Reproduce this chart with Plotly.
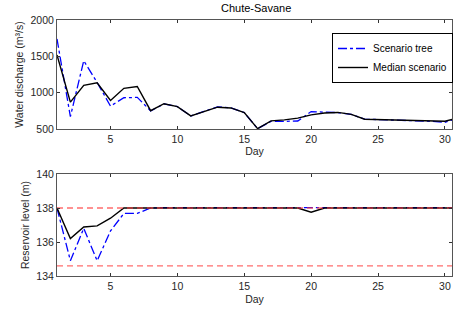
import plotly.graph_objects as go

days = list(range(1, 32))
tree_discharge = [1740, 670, 1440, 1140, 815, 930, 935, 750, 845, 808, 680, 740, 805, 790, 725,
                  505, 605, 605, 610, 740, 730, 725, 700, 635, 630, 625, 620, 612, 605, 593, 650]
median_discharge = [1520, 870, 1100, 1135, 893, 1060, 1085, 752, 848, 808, 680, 740, 800, 790, 725,
                    505, 612, 625, 650, 695, 720, 728, 702, 634, 630, 625, 620, 615, 610, 607, 650]
tree_level = [138, 134.9, 136.8, 134.9, 136.65, 137.68, 137.68, 138.0, 138.02, 138.02, 138.02,
              138.02, 138.02, 138.02, 138.02, 138.02, 138.02, 138.02, 138.02, 138.0, 138.02,
              138.02, 138.02, 138.02, 138.02, 138.02, 138.02, 138.02, 138.02, 138.02, 138.02]
median_level = [138, 136.2, 136.88, 136.95, 137.4, 138.0, 138.0, 138.0, 138.0, 138.0, 138.0,
                138.0, 138.0, 138.0, 138.0, 138.0, 138.0, 138.0, 138.0, 137.75, 138.0,
                138.0, 138.0, 138.0, 138.0, 138.0, 138.0, 138.0, 138.0, 138.0, 138.0]
level_max = 138.0
level_min = 134.6

W, H = 453, 314
ml, mr, mt, mb = 57, 0, 20, 38
ph = H - mt - mb
pw = W - ml - mr

def fy(y):
    return (H - mb - y) / ph

def fx(x):
    return (x - ml) / pw

top_dom = [fy(129), fy(20)]
bot_dom = [fy(276), fy(174)]
xmax = 1 + pw / 13.41

font = dict(family="Liberation Sans, Arial, sans-serif", size=10.5, color="#262626")
blue = "#0000ff"
red = "rgba(255,60,60,0.75)"

fig = go.Figure()
fig.add_trace(go.Scatter(x=days, y=tree_discharge, mode="lines", name="Scenario tree",
                         line=dict(color=blue, width=1.3, dash="dashdot"), xaxis="x", yaxis="y"))
fig.add_trace(go.Scatter(x=days, y=median_discharge, mode="lines", name="Median scenario",
                         line=dict(color="black", width=1.4), xaxis="x", yaxis="y"))
fig.add_trace(go.Scatter(x=days, y=tree_level, mode="lines", showlegend=False,
                         line=dict(color=blue, width=1.3, dash="dashdot"), xaxis="x2", yaxis="y2"))
fig.add_trace(go.Scatter(x=days, y=median_level, mode="lines", showlegend=False,
                         line=dict(color="black", width=1.4), xaxis="x2", yaxis="y2"))
fig.add_trace(go.Scatter(x=[days[0], days[-1]], y=[level_max, level_max], mode="lines", showlegend=False,
                         line=dict(color=red, width=1.3, dash="6px,4px"), xaxis="x2", yaxis="y2"))
fig.add_trace(go.Scatter(x=[days[0], days[-1]], y=[level_min, level_min], mode="lines", showlegend=False,
                         line=dict(color=red, width=1.3, dash="6px,4px"), xaxis="x2", yaxis="y2"))

axis_common = dict(showgrid=False, zeroline=False, showline=True, linecolor="#555555", linewidth=1,
                   mirror="ticks", ticks="inside", ticklen=3, tickcolor="#333333",
                   tickfont=font, ticklabeloverflow="allow")

fig.update_layout(
    width=W, height=H,
    margin=dict(l=ml, r=mr, t=mt, b=mb),
    paper_bgcolor="white", plot_bgcolor="white",
    font=font,
    showlegend=True,
    legend=dict(x=fx(333), y=fy(33), xanchor="left", yanchor="top",
                bordercolor="black", borderwidth=1, bgcolor="white",
                font=dict(family="Liberation Sans, Arial, sans-serif", size=10, color="black"),
                tracegroupgap=0, itemwidth=30),
    xaxis=dict(axis_common, domain=[0, 1], range=[1, xmax], tickvals=[5, 10, 15, 20, 25, 30],
               anchor="y", title=dict(text="Day", font=font, standoff=0)),
    yaxis=dict(axis_common, domain=top_dom, range=[500, 2000], tickvals=[500, 1000, 1500, 2000],
               anchor="x", title=dict(text="Water discharge (m³/s)", font=font, standoff=4)),
    xaxis2=dict(axis_common, domain=[0, 1], range=[1, xmax], tickvals=[5, 10, 15, 20, 25, 30],
                anchor="y2", title=dict(text="Day", font=font, standoff=5)),
    yaxis2=dict(axis_common, domain=bot_dom, range=[134, 140], tickvals=[134, 136, 138, 140],
                anchor="x2", title=dict(text="Reservoir level (m)", font=font, standoff=4)),
    annotations=[dict(text="Chute-Savane", x=fx(257), y=fy(20), xref="paper", yref="paper",
                      xanchor="center", yanchor="bottom", yshift=4, showarrow=False,
                      font=dict(family="Liberation Sans, Arial, sans-serif", size=11, color="black"))],
)

fig.write_html("out.html", config={"displayModeBar": False},
               post_script="document.body.style.margin='0';document.body.style.overflow='hidden';")
